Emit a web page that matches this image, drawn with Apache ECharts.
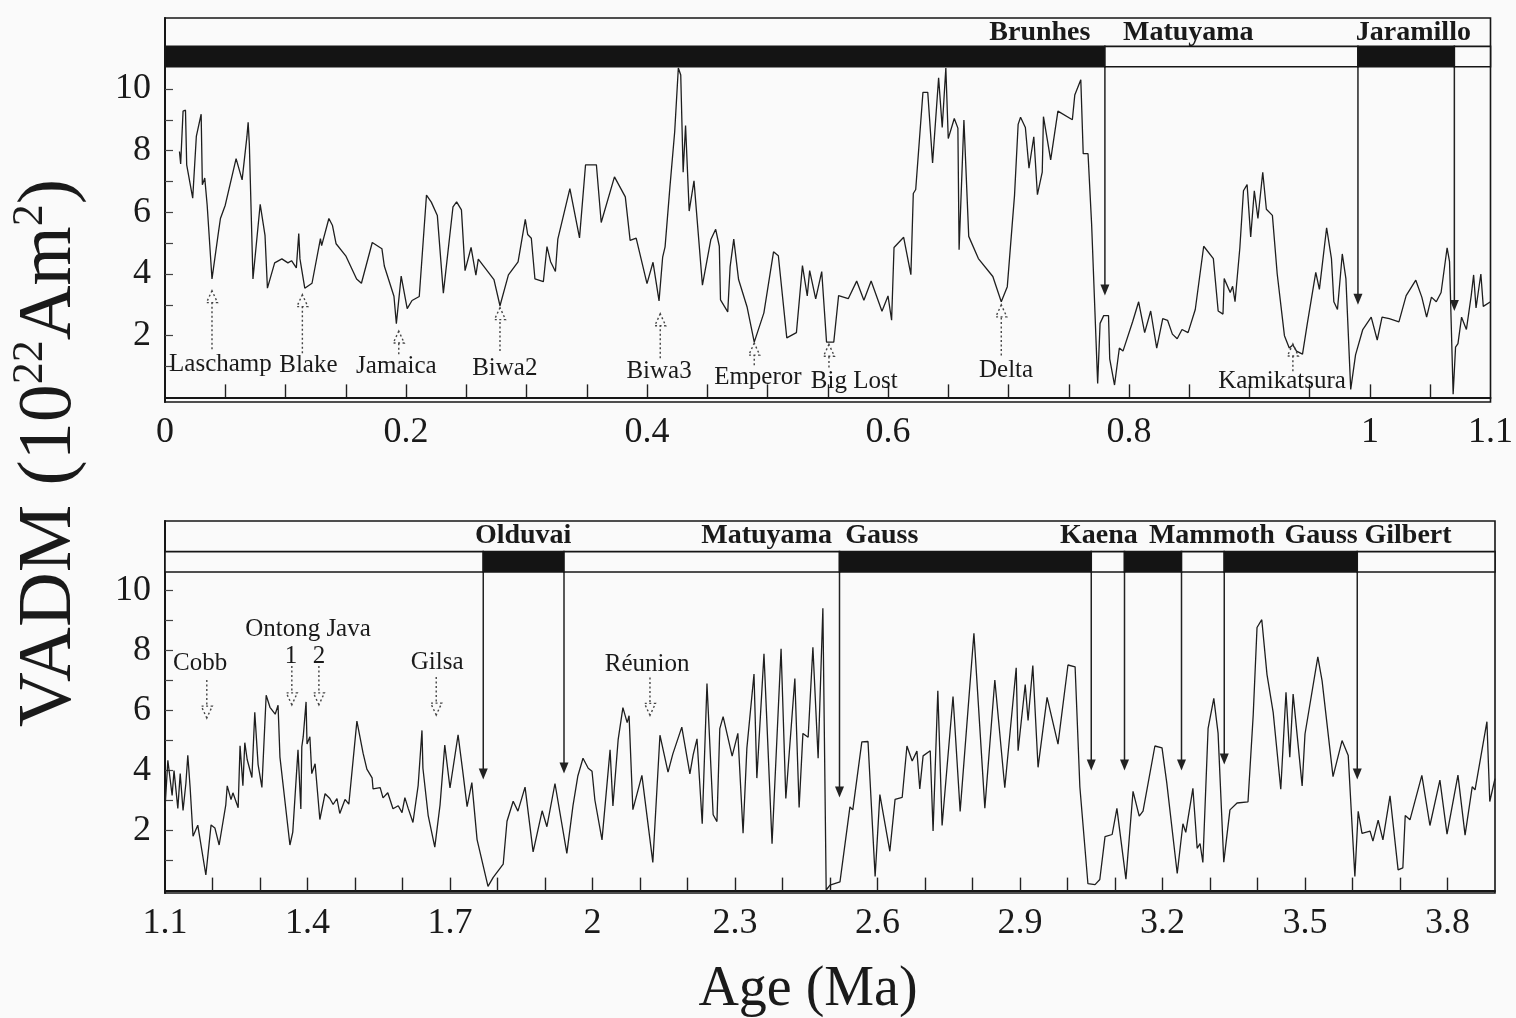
<!DOCTYPE html>
<html>
<head>
<meta charset="utf-8">
<title>VADM 0–3.9 Ma</title>
<script src="https://cdn.jsdelivr.net/npm/echarts@6/dist/echarts.min.js"></script>
<style>
  html, body { margin: 0; padding: 0; background: #fafafa; }
  #chart { width: 1516px; height: 1018px; }
</style>
</head>
<body>
<div id="chart"></div>
<script>
// ---- VADM record, 0–1.1 Ma (upper panel) ----
const upperAge = [0.012,0.013,0.015,0.017,0.018,0.023,0.026,0.030,0.031,0.033,0.035,0.039,0.044,0.046,0.050,0.059,0.064,0.068,0.069,0.070,
  0.073,0.079,0.083,0.085,0.091,0.097,0.102,0.105,0.109,0.111,0.112,0.116,0.122,0.129,0.130,0.136,0.139,0.142,0.150,0.159,
  0.163,0.172,0.180,0.182,0.190,0.192,0.196,0.201,0.205,0.211,0.217,0.221,0.226,0.231,0.239,0.242,0.246,0.249,0.254,0.258,
  0.260,0.273,0.278,0.285,0.293,0.299,0.301,0.304,0.307,0.314,0.317,0.320,0.324,0.326,0.336,0.344,0.349,0.358,0.362,0.373,
  0.382,0.386,0.391,0.400,0.405,0.410,0.413,0.415,0.419,0.423,0.426,0.428,0.430,0.432,0.435,0.439,0.446,0.453,0.457,0.460,
  0.461,0.467,0.469,0.472,0.476,0.483,0.489,0.497,0.505,0.509,0.516,0.524,0.529,0.533,0.535,0.540,0.545,0.549,0.555,0.559,
  0.567,0.574,0.580,0.586,0.595,0.600,0.603,0.605,0.613,0.619,0.621,0.623,0.629,0.633,0.637,0.642,0.645,0.648,0.650,0.655,
  0.658,0.659,0.663,0.667,0.675,0.687,0.694,0.699,0.703,0.705,0.708,0.710,0.714,0.717,0.721,0.724,0.728,0.729,0.735,0.741,
  0.753,0.755,0.760,0.762,0.766,0.769,0.774,0.776,0.779,0.783,0.784,0.788,0.792,0.795,0.803,0.808,0.813,0.818,0.823,0.828,
  0.832,0.836,0.840,0.844,0.849,0.855,0.862,0.870,0.874,0.878,0.879,0.884,0.886,0.888,0.892,0.895,0.898,0.901,0.904,0.907,
  0.911,0.914,0.919,0.923,0.929,0.933,0.936,0.939,0.944,0.948,0.955,0.958,0.964,0.968,0.970,0.973,0.977,0.980,0.984,0.988,
  0.994,1.001,1.006,1.010,1.016,1.024,1.030,1.038,1.043,1.047,1.051,1.055,1.059,1.064,1.066,1.069,1.071,1.073,1.076,1.080,
  1.084,1.086,1.088,1.092,1.094,1.100];
const upperVadm = [7.97,7.57,9.28,9.31,7.54,6.46,8.46,9.18,6.89,7.11,6.23,3.84,5.25,5.80,6.23,7.74,7.05,8.46,8.92,8.20,
  3.84,6.26,5.25,3.54,4.36,4.49,4.36,4.43,4.20,5.31,4.49,3.54,3.70,5.15,4.92,5.80,5.57,4.98,4.59,3.84,
  3.70,5.02,4.82,4.26,3.28,2.39,3.93,2.88,3.14,3.27,6.56,6.33,5.90,3.38,6.18,6.34,6.08,4.11,4.86,3.96,
  4.48,3.82,2.97,3.97,4.39,5.77,5.28,5.16,3.84,3.75,4.89,4.40,4.08,5.13,6.77,5.17,7.54,7.54,5.67,7.15,
  6.50,5.09,5.16,3.69,4.38,3.13,4.55,4.88,6.81,8.62,10.68,10.45,7.30,8.81,6.04,7.02,3.64,5.12,5.45,4.90,
  3.16,2.77,4.24,5.13,3.82,2.94,1.79,2.74,4.72,4.59,1.93,2.10,4.27,3.29,4.11,3.19,4.08,1.79,1.79,3.30,
  3.20,3.77,3.15,3.77,2.79,3.29,2.50,4.86,5.19,3.98,6.61,6.74,9.89,9.89,7.60,10.36,8.75,10.68,8.39,9.04,
  8.73,4.79,8.99,5.22,4.50,3.92,3.10,3.59,5.57,6.55,8.85,9.08,8.75,7.43,8.45,6.57,7.30,9.10,7.70,9.28,
  9.00,9.80,10.30,7.90,7.90,5.60,0.45,2.40,2.65,2.65,1.25,0.40,1.60,1.50,2.45,3.10,2.10,2.80,1.60,2.55,
  2.50,2.05,1.90,2.20,2.10,2.85,4.90,4.50,2.80,2.70,3.85,3.40,3.60,3.10,4.85,6.70,6.90,5.20,6.70,5.80,
  7.30,6.10,5.90,4.00,2.00,1.60,1.70,1.50,1.40,2.40,4.05,3.50,5.50,4.50,3.10,2.85,4.65,3.85,0.26,1.38,
  2.20,2.60,1.86,2.60,2.55,2.45,3.30,3.80,3.25,2.60,3.25,3.10,3.40,4.85,4.40,0.10,1.63,1.74,2.60,2.20,
  3.30,3.97,2.90,4.00,2.95,3.10];

// ---- VADM record, 1.1–3.9 Ma (lower panel) ----
const lowerAge = [1.100,1.106,1.115,1.119,1.127,1.132,1.138,1.144,1.148,1.153,1.159,1.169,1.186,1.197,1.205,1.214,1.228,1.231,1.239,1.243,
  1.254,1.258,1.264,1.268,1.273,1.283,1.289,1.296,1.304,1.313,1.321,1.332,1.338,1.342,1.363,1.369,1.380,1.386,1.388,1.391,
  1.397,1.399,1.405,1.409,1.416,1.426,1.437,1.447,1.454,1.462,1.468,1.479,1.487,1.504,1.517,1.525,1.536,1.538,1.553,1.559,
  1.569,1.580,1.591,1.599,1.605,1.612,1.622,1.633,1.641,1.643,1.654,1.668,1.679,1.689,1.700,1.717,1.727,1.736,1.746,1.757,
  1.780,1.791,1.812,1.820,1.833,1.843,1.858,1.875,1.894,1.904,1.921,1.946,1.959,1.969,1.980,1.991,1.999,2.005,2.020,2.037,
  2.043,2.054,2.064,2.073,2.077,2.085,2.104,2.127,2.142,2.159,2.169,2.188,2.205,2.212,2.220,2.231,2.241,2.254,2.262,2.268,
  2.275,2.294,2.306,2.317,2.325,2.340,2.346,2.361,2.378,2.397,2.407,2.426,2.435,2.443,2.454,2.464,2.475,2.485,2.492,2.500,
  2.521,2.542,2.548,2.567,2.580,2.595,2.605,2.626,2.637,2.652,2.662,2.673,2.683,2.689,2.696,2.711,2.717,2.727,2.736,2.759,
  2.774,2.803,2.826,2.847,2.868,2.892,2.896,2.911,2.917,2.927,2.938,2.957,2.980,3.001,3.016,3.026,3.043,3.058,3.068,3.079,
  3.094,3.104,3.123,3.138,3.151,3.159,3.184,3.199,3.209,3.231,3.243,3.249,3.264,3.273,3.279,3.285,3.296,3.308,3.317,3.329,
  3.342,3.357,3.380,3.391,3.399,3.409,3.420,3.433,3.449,3.460,3.468,3.475,3.494,3.500,3.527,3.536,3.559,3.578,3.591,3.605,
  3.612,3.620,3.637,3.643,3.654,3.664,3.679,3.696,3.706,3.711,3.721,3.746,3.763,3.784,3.799,3.822,3.837,3.852,3.858,3.883,
  3.889,3.900];
const lowerVadm = [2.73,4.34,3.17,4.00,2.74,3.90,2.67,3.58,4.51,3.41,1.81,2.18,0.52,2.19,2.09,1.52,2.86,3.49,3.03,3.26,
  2.76,4.83,3.50,4.93,4.37,3.77,5.94,4.20,3.44,6.51,6.11,5.88,6.18,4.45,1.52,1.95,4.69,2.72,4.79,5.13,
  6.29,4.89,5.13,3.90,4.23,2.37,3.23,3.07,2.87,3.07,2.57,3.04,2.88,5.65,4.58,4.05,3.76,3.39,3.43,3.09,
  3.26,2.73,2.83,2.60,3.10,2.74,2.27,3.51,5.34,4.08,2.51,1.45,2.85,4.85,3.42,5.19,3.96,2.80,3.60,1.70,
  0.14,0.44,0.88,2.31,2.98,2.65,3.45,1.29,2.66,2.13,3.57,1.24,2.84,3.81,4.41,4.08,3.98,3.02,1.69,4.69,
  2.82,5.03,6.10,5.60,5.83,2.70,3.84,0.94,5.18,3.95,4.55,5.45,3.89,4.53,5.06,2.23,6.90,2.53,2.30,5.40,
  5.80,4.48,5.24,1.91,4.75,7.22,3.75,7.89,1.56,8.06,3.07,7.07,2.77,5.24,5.11,8.11,4.41,9.41,0.02,0.18,
  0.29,2.79,2.69,4.96,4.97,0.47,3.20,1.31,3.04,3.11,4.82,4.32,4.65,3.39,4.49,4.66,1.99,6.66,2.17,6.47,
  2.64,8.58,2.75,7.02,3.43,7.43,4.66,6.87,5.67,7.50,4.11,6.44,4.88,7.52,7.46,3.46,0.23,0.20,0.37,1.80,
  1.87,2.74,0.38,3.31,2.48,2.65,4.82,4.76,3.59,0.57,2.23,1.94,3.41,1.41,1.57,0.94,5.41,6.41,5.25,0.95,
  2.69,2.92,2.96,5.86,8.77,9.03,7.20,5.94,3.38,6.61,4.45,6.55,3.49,5.22,7.79,6.99,3.80,5.00,4.50,0.47,
  2.64,1.91,1.98,1.65,2.35,1.69,3.16,0.69,0.76,2.50,2.36,3.84,2.17,3.68,1.88,3.85,1.85,3.46,3.36,5.63,
  2.97,3.73];

// ---- axis tick labels ----
const upperTickLabels = [0, 0.2, 0.4, 0.6, 0.8, 1, 1.1];
const lowerTickLabels = [1.1, 1.4, 1.7, 2, 2.3, 2.6, 2.9, 3.2, 3.5, 3.8];
const vadmTickLabels = [2, 4, 6, 8, 10];

// ---- polarity chrons: [start Ma, end Ma, normal (1) / reversed (0)] ----
const upperChrons = [[0, 0.78, 1], [0.78, 0.99, 0], [0.99, 1.07, 1], [1.07, 1.1, 0]];
const lowerChrons = [[1.1, 1.77, 0], [1.77, 1.94, 1], [1.94, 2.52, 0], [2.52, 3.05, 1], [3.05, 3.12, 0],
  [3.12, 3.24, 1], [3.24, 3.33, 0], [3.33, 3.61, 1], [3.61, 3.9, 0]];
// reversal boundaries marked by arrows, and the VADM level each arrow points at
const upperReversalAge = [0.78, 0.99, 1.07];
const upperReversalTip = [3.3, 3.0, 2.8];
const lowerReversalAge = [1.77, 1.94, 2.52, 3.05, 3.12, 3.24, 3.33, 3.61];
const lowerReversalTip = [3.7, 3.9, 3.1, 4.0, 4.0, 4.0, 4.2, 3.7];

// chron names and where they sit along the age axis
const upperChronNames = ['Brunhes', 'Matuyama', 'Jaramillo'];
const upperChronNameAge = [0.768, 0.795, 1.036];
const upperChronNameAlign = ['right', 'left', 'center'];
const lowerChronNames = ['Olduvai', 'Matuyama', 'Gauss', 'Kaena', 'Mammoth', 'Gauss', 'Gilbert'];
const lowerChronNameAge = [1.854, 2.504, 2.532, 3.066, 3.304, 3.534, 3.717];
const lowerChronNameAlign = ['center', 'right', 'left', 'center', 'center', 'center', 'center'];

// ---- excursions: age, arrow tip and tail (VADM) ----
const upperEventNames = ['Laschamp', 'Blake', 'Jamaica', 'Biwa2', 'Biwa3', 'Emperor', 'Big Lost', 'Delta', 'Kamikatsura'];
const upperEventAge = [0.039, 0.114, 0.194, 0.278, 0.411, 0.489, 0.551, 0.694, 0.936];
const upperEventTip = [3.46, 3.33, 2.15, 2.91, 2.71, 1.76, 1.72, 3.0, 1.73];
const upperEventTail = [1.56, 1.43, 1.4, 1.5, 1.27, 1.04, 0.97, 1.36, 0.85];
const upperEventLabelAt = [[0.046, 1.07], [0.119, 1.03], [0.192, 1.0], [0.282, 0.94], [0.410, 0.84],
  [0.492, 0.65], [0.572, 0.51], [0.698, 0.87], [0.927, 0.52]];

const lowerEventAge = [1.188, 1.367, 1.424, 1.671, 2.121];
const lowerEventTip = [5.75, 6.19, 6.19, 5.85, 5.84];
const lowerEventTail = [7.02, 7.49, 7.49, 7.12, 7.1];
const lowerEventNames = ['Cobb', 'Ontong Java', '1', '2', 'Gilsa', 'Réunion'];
const lowerEventLabelAt = [[1.174, 7.58], [1.401, 8.69], [1.365, 7.82], [1.424, 7.82], [1.673, 7.62], [2.115, 7.54]];

// ---- styling ----
const SERIF = '"Liberation Serif", "Times New Roman", "DejaVu Serif", serif';
const INK = '#161616';
const UPPER_BAR = [10.72, 11.38];   // VADM span of the polarity row, upper panel
const LOWER_BAR = [10.62, 11.30];
const NAME_ROW = 11.82;            // chron names sit above the polarity row

function minorTicks(from, to, step) {
  const out = [];
  for (let k = 0; from + k * step <= to + 1e-9; k++) out.push(Math.round((from + k * step) * 1000) / 1000);
  return out;
}

function zip(a, b) { return a.map((v, i) => [v, b[i]]); }

function chronSeries(idx, chrons, band) {
  return {
    type: 'custom', xAxisIndex: idx, yAxisIndex: idx, silent: true, z: 6,
    data: chrons, encode: { x: [0, 1], y: 2 },
    renderItem(params, api) {
      const a = api.coord([api.value(0), band[1]]);
      const b = api.coord([api.value(1), band[0]]);
      return {
        type: 'rect',
        shape: { x: a[0], y: a[1], width: b[0] - a[0], height: b[1] - a[1] },
        style: { fill: api.value(2) ? '#141414' : '#fafafa', stroke: INK, lineWidth: 1.6 }
      };
    }
  };
}

function reversalSeries(idx, ages, tips, band) {
  return {
    type: 'custom', xAxisIndex: idx, yAxisIndex: idx, silent: true, z: 5,
    data: zip(ages, tips), encode: { x: 0, y: 1 },
    renderItem(params, api) {
      const top = api.coord([api.value(0), band[0]]);
      const tip = api.coord([api.value(0), api.value(1)]);
      const h = 11, w = 4.5;
      return {
        type: 'group',
        children: [
          { type: 'line', shape: { x1: top[0], y1: top[1], x2: tip[0], y2: tip[1] - h + 1 },
            style: { stroke: '#222', lineWidth: 1.5 } },
          { type: 'polygon', shape: { points: [[tip[0], tip[1]], [tip[0] - w, tip[1] - h], [tip[0] + w, tip[1] - h]] },
            style: { fill: '#222' } }
        ]
      };
    }
  };
}

function eventSeries(idx, ages, tips, tails) {
  return {
    type: 'custom', xAxisIndex: idx, yAxisIndex: idx, silent: true, z: 4,
    data: ages.map((a, i) => [a, tips[i], tails[i]]), encode: { x: 0, y: 1 },
    renderItem(params, api) {
      const tip = api.coord([api.value(0), api.value(1)]);
      const tail = api.coord([api.value(0), api.value(2)]);
      const d = tail[1] > tip[1] ? 1 : -1;  // +1: arrow points up
      const h = 12, w = 5.5;
      const dash = { stroke: '#444', lineWidth: 1.4, lineDash: [2, 2.5], fill: null };
      return {
        type: 'group',
        children: [
          { type: 'line', shape: { x1: tail[0], y1: tail[1], x2: tip[0], y2: tip[1] + d * h }, style: dash },
          { type: 'polygon', shape: { points: [[tip[0], tip[1]], [tip[0] - w, tip[1] + d * h], [tip[0] + w, tip[1] + d * h]] },
            style: dash }
        ]
      };
    }
  };
}

function labelSeries(idx, texts, at, aligns, font) {
  return {
    type: 'custom', xAxisIndex: idx, yAxisIndex: idx, silent: true, z: 7,
    data: at, encode: { x: 0, y: 1 },
    renderItem(params, api) {
      const p = api.coord([api.value(0), api.value(1)]);
      return {
        type: 'text', x: p[0], y: p[1],
        style: { text: texts[params.dataIndex], font: font, fill: '#1a1a1a',
                 align: aligns ? aligns[params.dataIndex] : 'center', verticalAlign: 'middle' }
      };
    }
  };
}

const axisLineStyle = { lineStyle: { color: INK, width: 2 } };
const tickFont = { fontFamily: SERIF, fontSize: 36, color: '#1a1a1a' };

const option = {
  backgroundColor: '#fafafa',
  animation: false,
  grid: [
    { left: 165, top: 18, width: 1332, height: 384, show: true, borderColor: INK, borderWidth: 1.6, backgroundColor: 'transparent' },
    { left: 165, top: 521, width: 1330, height: 372, show: true, borderColor: INK, borderWidth: 1.6, backgroundColor: 'transparent' }
  ],
  xAxis: [
    { type: 'value', gridIndex: 0, min: 0, max: 1.1,
      axisLine: axisLineStyle,
      axisTick: { inside: true, length: 13, lineStyle: { color: '#222', width: 1.4 }, customValues: minorTicks(0.05, 1.05, 0.05) },
      axisLabel: Object.assign({ margin: 13, customValues: upperTickLabels }, tickFont),
      splitLine: { show: false } },
    { type: 'value', gridIndex: 1, min: 1.1, max: 3.9,
      axisLine: axisLineStyle,
      axisTick: { inside: true, length: 13, lineStyle: { color: '#222', width: 1.4 }, customValues: minorTicks(1.2, 3.8, 0.1) },
      axisLabel: Object.assign({ margin: 13, customValues: lowerTickLabels }, tickFont),
      splitLine: { show: false } }
  ],
  yAxis: [
    { type: 'value', gridIndex: 0, min: -0.15, max: 12.3,
      axisLine: axisLineStyle,
      axisTick: { inside: true, length: 8, lineStyle: { color: '#444', width: 1.2 }, customValues: minorTicks(1, 10, 1) },
      axisLabel: Object.assign({ margin: 14, customValues: vadmTickLabels }, tickFont),
      splitLine: { show: false } },
    { type: 'value', gridIndex: 1, min: -0.08, max: 12.32,
      axisLine: axisLineStyle,
      axisTick: { inside: true, length: 8, lineStyle: { color: '#444', width: 1.2 }, customValues: minorTicks(1, 10, 1) },
      axisLabel: Object.assign({ margin: 14, customValues: vadmTickLabels }, tickFont),
      splitLine: { show: false } }
  ],
  series: [
    { type: 'line', xAxisIndex: 0, yAxisIndex: 0, data: zip(upperAge, upperVadm), symbol: 'none',
      lineStyle: { color: '#1e1e1e', width: 1.3 }, z: 3 },
    { type: 'line', xAxisIndex: 1, yAxisIndex: 1, data: zip(lowerAge, lowerVadm), symbol: 'none',
      lineStyle: { color: '#1e1e1e', width: 1.3 }, z: 3 },
    chronSeries(0, upperChrons, UPPER_BAR),
    chronSeries(1, lowerChrons, LOWER_BAR),
    reversalSeries(0, upperReversalAge, upperReversalTip, UPPER_BAR),
    reversalSeries(1, lowerReversalAge, lowerReversalTip, LOWER_BAR),
    eventSeries(0, upperEventAge, upperEventTip, upperEventTail),
    eventSeries(1, lowerEventAge, lowerEventTip, lowerEventTail),
    labelSeries(0, upperEventNames, upperEventLabelAt, null, '25px ' + SERIF),
    labelSeries(1, lowerEventNames, lowerEventLabelAt, null, '25px ' + SERIF),
    labelSeries(0, upperChronNames, upperChronNameAge.map(a => [a, NAME_ROW]), upperChronNameAlign, 'bold 28px ' + SERIF),
    labelSeries(1, lowerChronNames, lowerChronNameAge.map(a => [a, NAME_ROW]), lowerChronNameAlign, 'bold 28px ' + SERIF)
  ],
  graphic: [
    { type: 'text', x: 808, y: 990,
      style: { text: 'Age (Ma)', font: '56px ' + SERIF, fill: '#1a1a1a', align: 'center', verticalAlign: 'middle' } },
    { type: 'text', x: 50, y: 453, rotation: Math.PI / 2,
      style: {
        text: '{b|VADM (10}{s|22}{b|Am}{s|2}{b|)}',
        align: 'center', verticalAlign: 'middle', fill: '#1a1a1a',
        rich: {
          b: { fontFamily: SERIF, fontSize: 76, lineHeight: 84, fill: '#1a1a1a' },
          s: { fontFamily: SERIF, fontSize: 44, lineHeight: 44, verticalAlign: 'top', fill: '#1a1a1a' }
        }
      } }
  ]
};

echarts.init(document.getElementById('chart'), null, { renderer: 'canvas' }).setOption(option);
</script>
</body>
</html>
